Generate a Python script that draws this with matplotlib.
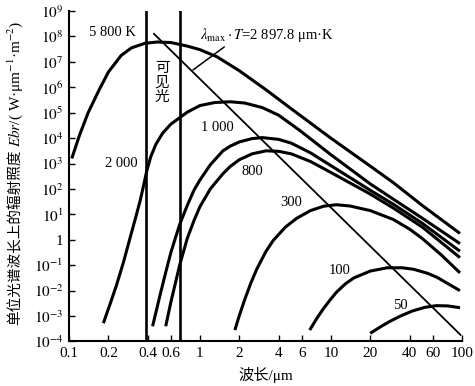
import matplotlib
matplotlib.use("Agg")
import matplotlib.pyplot as plt
import numpy as np

plt.rcParams['font.family'] = ['Liberation Serif', 'Noto Sans CJK SC']
plt.rcParams['mathtext.fontset'] = 'stix'

# wavelength (um) and log10 of spectral exitance (W·um^-1·m^-2)
wl_5800 = [0.105, 0.12, 0.14, 0.17, 0.2, 0.25, 0.3, 0.38, 0.47, 0.6, 0.8, 1.0, 1.35, 2.0, 3.2, 5.0, 10, 20, 30, 50, 97]
lg_5800 = [3.2, 4.1, 5.0, 5.9, 6.6, 7.25, 7.55, 7.73, 7.78, 7.76, 7.62, 7.48, 7.2, 6.65, 5.9, 5.15, 4.0, 2.9, 2.25, 1.35, 0.25]

wl_2000 = [0.183, 0.21, 0.23, 0.26, 0.29, 0.32, 0.35, 0.37, 0.39, 0.42, 0.46, 0.52, 0.6, 0.7, 0.8,
           1.0, 1.3, 1.7, 2.2, 3.0, 4.0, 5.8, 10, 20, 30, 50, 97]
lg_2000 = [-3.28, -2.4, -1.8, -0.9, 0.0, 0.8, 1.55, 2.1, 2.65, 3.25, 3.75, 4.2, 4.55, 4.8, 5.02,
           5.28, 5.4, 5.43, 5.38, 5.2, 4.9, 4.3, 3.35, 2.2, 1.6, 0.85, -0.15]

wl_1000 = [0.435, 0.5, 0.55, 0.6, 0.7, 0.8, 0.9, 1.0, 1.2, 1.5, 1.7, 2.0, 2.5, 3.0, 4.0, 5.0, 7.0, 10, 20, 30, 50, 97]
lg_1000 = [-3.4, -2.1, -1.25, -0.5, 0.6, 1.35, 1.95, 2.35, 2.95, 3.5, 3.68, 3.85, 3.98, 4.02, 3.95, 3.8, 3.42, 2.92, 1.95, 1.4, 0.65, -0.45]

wl_800 = [0.548, 0.6, 0.7, 0.8, 0.9, 1.0, 1.2, 1.5, 1.7, 2.0, 2.5, 3.2, 4.0, 5.0, 7.0, 10, 20, 30, 50, 97]
lg_800 = [-3.4, -2.45, -1.0, 0.05, 0.75, 1.3, 2.0, 2.6, 2.88, 3.15, 3.38, 3.5, 3.48, 3.38, 3.08, 2.65, 1.8, 1.25, 0.5, -0.7]

wl_300 = [1.85, 2.0, 2.2, 2.45, 2.72, 3.2, 3.64, 4.5, 5.5, 7.0, 8.8, 11, 14, 20, 30, 40, 50, 70, 97]
lg_300 = [-3.55, -2.98, -2.35, -1.7, -1.15, -0.45, -0.02, 0.5, 0.85, 1.15, 1.32, 1.38, 1.33, 1.15, 0.8, 0.42, 0.05, -0.6, -1.3]

wl_100 = [6.9, 7.8, 8.8, 10, 11.1, 13, 15, 20, 27, 35, 43, 55, 65, 80, 97]
lg_100 = [-3.55, -3.1, -2.7, -2.33, -2.05, -1.72, -1.5, -1.23, -1.1, -1.1, -1.16, -1.32, -1.48, -1.75, -2.0]

wl_50 = [20, 24, 28, 34, 42, 52, 64, 78, 97]
lg_50 = [-3.68, -3.42, -3.22, -3.0, -2.8, -2.66, -2.59, -2.6, -2.67]

# Wien displacement line, end points
wien_wl = [0.446, 98]
wien_lg = [8.1, -3.74]

visible_edges = [0.385, 0.70]

curve_labels = ["5 800 K", "2 000", "1 000", "800", "300", "100", "50"]
label_wl = [0.213, 0.25, 1.37, 2.5, 4.97, 11.7, 33.8]
label_lg = [8.17, 2.99, 4.4, 2.67, 1.46, -1.21, -2.59]

x_ticks = [0.1, 0.2, 0.4, 0.6, 1, 2, 4, 6, 10, 20, 40, 60, 100]
x_ticklabels = ["0.1", "0.2", "0.4", "0.6", "1", "2", "4", "6", "10", "20", "40", "60", "100"]
y_exps = list(range(-4, 10))

fig = plt.figure(figsize=(4.75, 3.86), dpi=100)
ax = fig.add_axes([0.1453, 0.1153, 0.8267, 0.8562])

curves = [(wl_5800, lg_5800), (wl_2000, lg_2000), (wl_1000, lg_1000), (wl_800, lg_800),
          (wl_300, lg_300), (wl_100, lg_100), (wl_50, lg_50)]
for wl, lg in curves:
    ax.plot(wl, 10.0 ** np.array(lg), color="black", lw=2.2, solid_capstyle="butt")

ax.plot(wien_wl, 10.0 ** np.array(wien_lg), color="black", lw=1.3)

for x in visible_edges:
    ax.axvline(x, color="black", lw=1.9)

for txt, x, y in zip(curve_labels, label_wl, label_lg):
    ax.text(x, 10.0 ** y, txt, ha="center", va="center", fontsize=10.5)

ax.text(0.513, 10.0 ** 6.2, "可\n见\n光", ha="center", va="center", fontsize=10.5,
        linespacing=1.05, family=["Noto Sans CJK SC"])

ax.annotate(r"$\lambda_{\rm max}\cdot T$=2 897.8 μm·K", xy=(0.885, 10.0 ** 6.68),
            xytext=(1.0, 10.0 ** 8.05), ha="left", va="center", fontsize=10.5,
            arrowprops=dict(arrowstyle="-", color="black", lw=1.1, shrinkA=0, shrinkB=0,
                            relpos=(0.21, 0.0)))

ax.set_xscale("log")
ax.set_yscale("log")
ax.set_xlim(0.1, 100)
ax.set_ylim(1e-4, 1e9)

ax.set_xticks(x_ticks)
ax.set_xticklabels(x_ticklabels)
ax.set_yticks([10.0 ** e for e in y_exps])
ax.set_yticklabels(["1" if e == 0 else r"$10^{%d}$" % e for e in y_exps])
ax.minorticks_off()
ax.tick_params(direction="in", length=4, width=1.0, labelsize=11, pad=4)

for side in ["top", "right"]:
    ax.spines[side].set_visible(False)
for side in ["left", "bottom"]:
    ax.spines[side].set_linewidth(1.5)

ax.text(0.5, -0.10, "波长/μm", transform=ax.transAxes, ha="center", va="center", fontsize=11)

# y label in two pieces: CJK text, then the symbol/unit part in mathtext
fig.text(0.032, 0.612, "单位光谱波长上的辐射照度", rotation=90, ha="center", va="top",
         fontsize=10.5, family=["Noto Sans CJK SC"])
fig.text(0.032, 0.618, "$Ebr$/( W·μm$^{-1}$·m$^{-2}$)", rotation=90, ha="center", va="bottom",
         fontsize=11)

fig.savefig("out.png", dpi=100)
